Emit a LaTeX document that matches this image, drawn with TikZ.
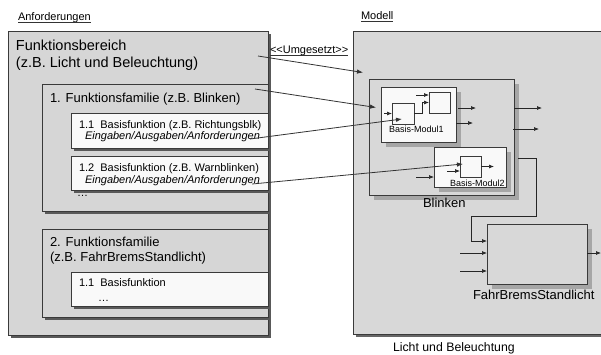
\documentclass[tikz,border=0pt]{standalone}
\usepackage{fontspec}
\setmainfont{Liberation Sans}
\usetikzlibrary{arrows.meta,shadows,calc}
\definecolor{boxgray}{HTML}{D6D6D6}
\definecolor{modgray}{HTML}{D8D8D8}
\definecolor{shadegray}{HTML}{A6A6A6}
\definecolor{edge}{HTML}{3A3A3A}
\definecolor{paper}{HTML}{F9F9F9}
\begin{document}
\begin{tikzpicture}[x=1pt,y=-1pt,
  reqbox/.style={draw=edge, line width=0.8pt, fill=boxgray, inner sep=0pt, outer sep=0pt, anchor=north west,
    drop shadow={shadow xshift=2.5pt, shadow yshift=-2.5pt, fill=black!65, opacity=1}},
  reqwhite/.style={reqbox, fill=paper},
  modbox/.style={draw=edge, line width=0.8pt, fill=modgray, inner sep=0pt, outer sep=0pt, anchor=north west,
    drop shadow={shadow xshift=5pt, shadow yshift=-5pt, fill=shadegray, opacity=1}},
  modwhite/.style={modbox, fill=paper},
  blk/.style={draw=edge, line width=0.8pt, fill=paper, inner sep=0pt, outer sep=0pt, anchor=north west},
  lbl/.style={inner sep=0pt, outer sep=0pt, anchor=base west},
  arr/.style={draw=black!85, line width=0.7pt, -{Latex[length=5pt,width=4pt]}},
  link/.style={draw=black!80, line width=0.8pt, -{Latex[length=6pt,width=4.5pt]}},
  uline/.style={draw=black!80, line width=0.6pt}
]
\clip (0,0) rectangle (601,354);
\fill[white] (0,0) rectangle (601,354);

% ---------- left: Anforderungen ----------
\node[lbl, font=\fontsize{11}{13}\selectfont] (anf) at (18,20.7) {Anforderungen};
\draw[uline] ([yshift=-2pt]anf.base west) -- ([yshift=-2pt]anf.base east);

\node[reqbox, minimum width=260pt, minimum height=304pt] (fb) at (8,31) {};
\node[lbl, font=\fontsize{14.5}{17}\selectfont] (fbt1) at (16,50.7) {Funktionsbereich};
\node[lbl, font=\fontsize{14.5}{17}\selectfont] (fbt2) at (16,67.5) {(z.B. Licht und Beleuchtung)};

\node[reqbox, minimum width=226pt, minimum height=127pt] (ff1) at (42,84) {};
\node[lbl, font=\fontsize{13}{15}\selectfont] (ff1t) at (50,102) {1. Funktionsfamilie (z.B. Blinken)};

\node[reqwhite, minimum width=197pt, minimum height=35pt] (bf11) at (71,113) {};
\node[lbl, font=\fontsize{11}{13}\selectfont] (bf11t) at (79,128.5) {1.1\ \ Basisfunktion (z.B. Richtungsblk)};
\node[lbl, font=\fontsize{11}{13}\selectfont\itshape] (bf11e) at (85,139.5) {Eingaben/Ausgaben/Anforderungen};

\node[reqwhite, minimum width=197pt, minimum height=34pt] (bf12) at (71,156) {};
\node[lbl, font=\fontsize{11}{13}\selectfont] (bf12t) at (79,171.5) {1.2\ \ Basisfunktion (z.B. Warnblinken)};
\node[lbl, font=\fontsize{11}{13}\selectfont\itshape] (bf12e) at (85,183) {Eingaben/Ausgaben/Anforderungen};
\node[lbl, font=\fontsize{11}{13}\selectfont] (dots1) at (77,196) {\dots};

\node[reqbox, minimum width=226pt, minimum height=88pt] (ff2) at (42,229) {};
\node[lbl, font=\fontsize{13}{15}\selectfont] (ff2t1) at (50,246.5) {2. Funktionsfamilie};
\node[lbl, font=\fontsize{13}{15}\selectfont] (ff2t2) at (50,261.5) {(z.B. FahrBremsStandlicht)};

\node[reqwhite, minimum width=197pt, minimum height=34pt] (bf21) at (71,272) {};
\node[lbl, font=\fontsize{11}{13}\selectfont] (bf21t) at (79,286) {1.1\ \ Basisfunktion};
\node[lbl, font=\fontsize{11}{13}\selectfont] (dots2) at (98,301) {\dots};

% ---------- right: Modell ----------
\node[lbl, font=\fontsize{11}{13}\selectfont] (mod) at (361,19.5) {Modell};
\draw[uline] ([yshift=-2pt]mod.base west) -- ([yshift=-2pt]mod.base east);

\node[draw=edge, line width=0.8pt, fill=modgray, inner sep=0pt, outer sep=0pt, anchor=north west,
  minimum width=260pt, minimum height=303pt,
  drop shadow={shadow xshift=3pt, shadow yshift=-3pt, fill=black!60, opacity=1}] (mb) at (353,31) {};
\node[lbl, font=\fontsize{12.3}{14}\selectfont] (mbt) at (393,351) {Licht und Beleuchtung};

\node[lbl, font=\fontsize{11}{13}\selectfont] (umg) at (270,53) {<{}<Umgesetzt>{}>};
\draw[uline] ([yshift=-2pt]umg.base west) -- ([yshift=-2pt]umg.base east);

% Blinken subsystem
\node[modbox, minimum width=145pt, minimum height=116pt] (bl) at (369,79) {};
\node[lbl, font=\fontsize{13}{15}\selectfont] (blt) at (423,207) {Blinken};

% Basis-Modul1
\node[modwhite, minimum width=75pt, minimum height=55pt] (bm1) at (381,87) {};
\node[blk, minimum width=22pt, minimum height=21pt] (ba) at (392,103) {};
\node[blk, minimum width=21pt, minimum height=21pt] (bb) at (429,92) {};
\node[lbl, font=\fontsize{9}{11}\selectfont] (bm1t) at (389,132.5) {Basis-Modul1};

\coordinate (inA) at (384,113.5);
\coordinate (inB) at (416,95);
\draw[arr] (inA) -- (inA -| ba.west);
\draw[arr] (inB) -- (inB -| bb.west);
\draw[arr] (ba.east) -- ++(8,0) |- (bb.west);
\coordinate (o1a) at (458,108); \coordinate (o1b) at (476,108);
\coordinate (o2a) at (456,123); \coordinate (o2b) at (473,123);
\draw[arr] (o1a) -- (o1b);
\draw[arr] (o2a) -- (o2b);

% Basis-Modul2
\node[modwhite, minimum width=72pt, minimum height=40pt] (bm2) at (434,147) {};
\node[blk, minimum width=21pt, minimum height=21pt] (bc) at (460,156) {};
\node[lbl, font=\fontsize{9}{11}\selectfont] (bm2t) at (450,186) {Basis-Modul2};
\coordinate (inM2) at (416,177);
\coordinate (inC) at (447,171);
\coordinate (outC) at (494,166.5);
\draw[arr] (inM2) -- (inM2 -| bm2.west);
\draw[arr] (inC) -- (inC -| bc.west);
\draw[arr] (bc.east) -- (outC);

% Blinken outputs
\coordinate (bo1a) at (514,108); \coordinate (bo1b) at (542,108);
\coordinate (bo2a) at (513,129); \coordinate (bo2b) at (539,129);
\draw[arr] (bo1a) -- (bo1b);
\draw[arr] (bo2a) -- (bo2b);

% FahrBremsStandlicht
\node[modbox, minimum width=100pt, minimum height=60pt] (fbs) at (487,224) {};
\node[lbl, font=\fontsize{13}{15}\selectfont] (fbst) at (473,299.5) {FahrBremsStandlicht};
\coordinate (bo3) at (518,158);
\coordinate (jA) at (536,216);
\coordinate (jB) at (471,241);
\draw[arr] (bo3) -| (jA) -| (jB) -- (jB -| fbs.west);
\coordinate (fi2) at (460,253);
\coordinate (fi3) at (460,271);
\draw[arr] (fi2) -- (fi2 -| fbs.west);
\draw[arr] (fi3) -- (fi3 -| fbs.west);
\coordinate (fo) at (601,253);
\draw[arr] (fo -| fbs.east) -- (fo);

% ---------- Umgesetzt links ----------
\coordinate (s1) at (258,56);   \coordinate (e1) at (363,72.5);
\coordinate (s2) at (255,89);   \coordinate (e2) at (376,107.5);
\coordinate (s3) at (250,139);  \coordinate (e3) at (402,119);
\coordinate (s4) at (252,184);  \coordinate (e4) at (463,164);
\draw[link] (s1) -- (e1);
\draw[link] (s2) -- (e2);
\draw[link] (s3) -- (e3);
\draw[link] (s4) -- (e4);
\end{tikzpicture}
\end{document}
